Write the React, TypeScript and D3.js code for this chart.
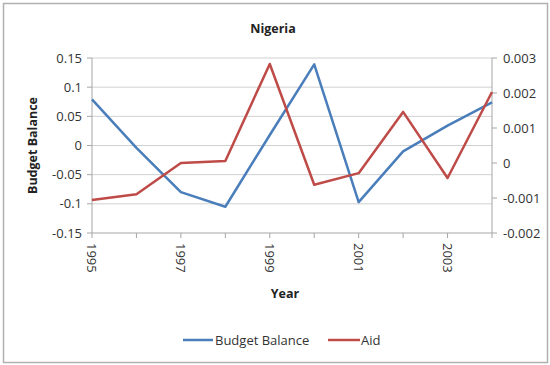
import React from "react";
import * as d3 from "d3";

const years = [1995, 1996, 1997, 1998, 1999, 2000, 2001, 2002, 2003, 2004];
const budgetBalance = [0.079, -0.004, -0.08, -0.105, 0.018, 0.139, -0.097, -0.01, 0.034, 0.074];
const aid = [-0.00106, -0.00089, 0.0, 0.00006, 0.00283, -0.00062, -0.00029, 0.00146, -0.00043, 0.00203];
const leftTicks = [0.15, 0.1, 0.05, 0, -0.05, -0.1, -0.15];
const rightTicks = [0.003, 0.002, 0.001, 0, -0.001, -0.002];
const labelYears = [1995, 1997, 1999, 2001, 2003];

const W = 550, H = 365;
const L = 92, R = 492, T = 58, B = 233;
const font = "'Open Sans', 'Liberation Sans', sans-serif";
const blue = "#4A7EBB";
const red = "#BE4B48";

export default function App() {
  const x = d3.scalePoint<number>().domain(years).range([L, R]);
  const yL = d3.scaleLinear().domain([-0.15, 0.15]).range([B, T]);
  const yR = d3.scaleLinear().domain([-0.002, 0.003]).range([B, T]);
  const lineL = d3.line<number>().x((_, i) => x(years[i])!).y((d) => yL(d));
  const lineR = d3.line<number>().x((_, i) => x(years[i])!).y((d) => yR(d));
  const fmtL = (v: number) => (v === 0 ? "0" : String(+v.toFixed(2)));
  const fmtR = (v: number) => (v === 0 ? "0" : String(+v.toFixed(3)));

  return (
    <svg width={W} height={H} style={{ position: "absolute", left: 0, top: 0 }} fontFamily={font}>
      <rect x={0} y={0} width={W} height={H} fill="#fff" />
      <rect x={3.5} y={3.5} width={544} height={359} fill="#fff" stroke="#b0b0b0" strokeWidth={1.5} />
      <text x={273} y={33} textAnchor="middle" fontSize={12.5} fontWeight="bold" fill="#222">Nigeria</text>
      {leftTicks.map((t) => (
        <line key={"g" + t} x1={L} x2={R} y1={yL(t)} y2={yL(t)} stroke={t === -0.15 ? "#a6a6a6" : "#d0d0d0"} strokeWidth={1} />
      ))}
      <line x1={L} x2={L} y1={T} y2={B} stroke="#a6a6a6" />
      <line x1={R} x2={R} y1={T} y2={B} stroke="#a6a6a6" />
      {leftTicks.map((t) => (
        <g key={"l" + t}>
          <line x1={L - 5} x2={L} y1={yL(t)} y2={yL(t)} stroke="#a6a6a6" />
          <text x={82} y={yL(t)} dy="0.35em" textAnchor="end" fontSize={13} fill="#333">{fmtL(t)}</text>
        </g>
      ))}
      {rightTicks.map((t) => (
        <g key={"r" + t}>
          <line x1={R} x2={R + 5} y1={yR(t)} y2={yR(t)} stroke="#a6a6a6" />
          <text x={503} y={yR(t)} dy="0.35em" textAnchor="start" fontSize={13} fill="#333">{fmtR(t)}</text>
        </g>
      ))}
      {years.map((yr) => (
        <line key={"xt" + yr} x1={x(yr)!} x2={x(yr)!} y1={B} y2={B + 5} stroke="#a6a6a6" />
      ))}
      {labelYears.map((yr) => (
        <text key={"xl" + yr} transform={`translate(${x(yr)!},${B + 10}) rotate(90)`} dy="0.35em" textAnchor="start" fontSize={13} fill="#333">{yr}</text>
      ))}
      <text transform={`translate(37,${(T + B) / 2}) rotate(-90)`} textAnchor="middle" fontSize={12.5} fontWeight="bold" fill="#222">Budget Balance</text>
      <text x={285} y={298} textAnchor="middle" fontSize={12.5} fontWeight="bold" fill="#222">Year</text>
      <path d={lineL(budgetBalance)!} fill="none" stroke={blue} strokeWidth={2.5} strokeLinejoin="round" />
      <path d={lineR(aid)!} fill="none" stroke={red} strokeWidth={2.5} strokeLinejoin="round" />
      <line x1={183} x2={213} y1={340} y2={340} stroke={blue} strokeWidth={2.5} />
      <text x={215} y={340} dy="0.35em" fontSize={13} fill="#333">Budget Balance</text>
      <line x1={328} x2={360} y1={340} y2={340} stroke={red} strokeWidth={2.5} />
      <text x={361} y={340} dy="0.35em" fontSize={13} fill="#333">Aid</text>
    </svg>
  );
}
